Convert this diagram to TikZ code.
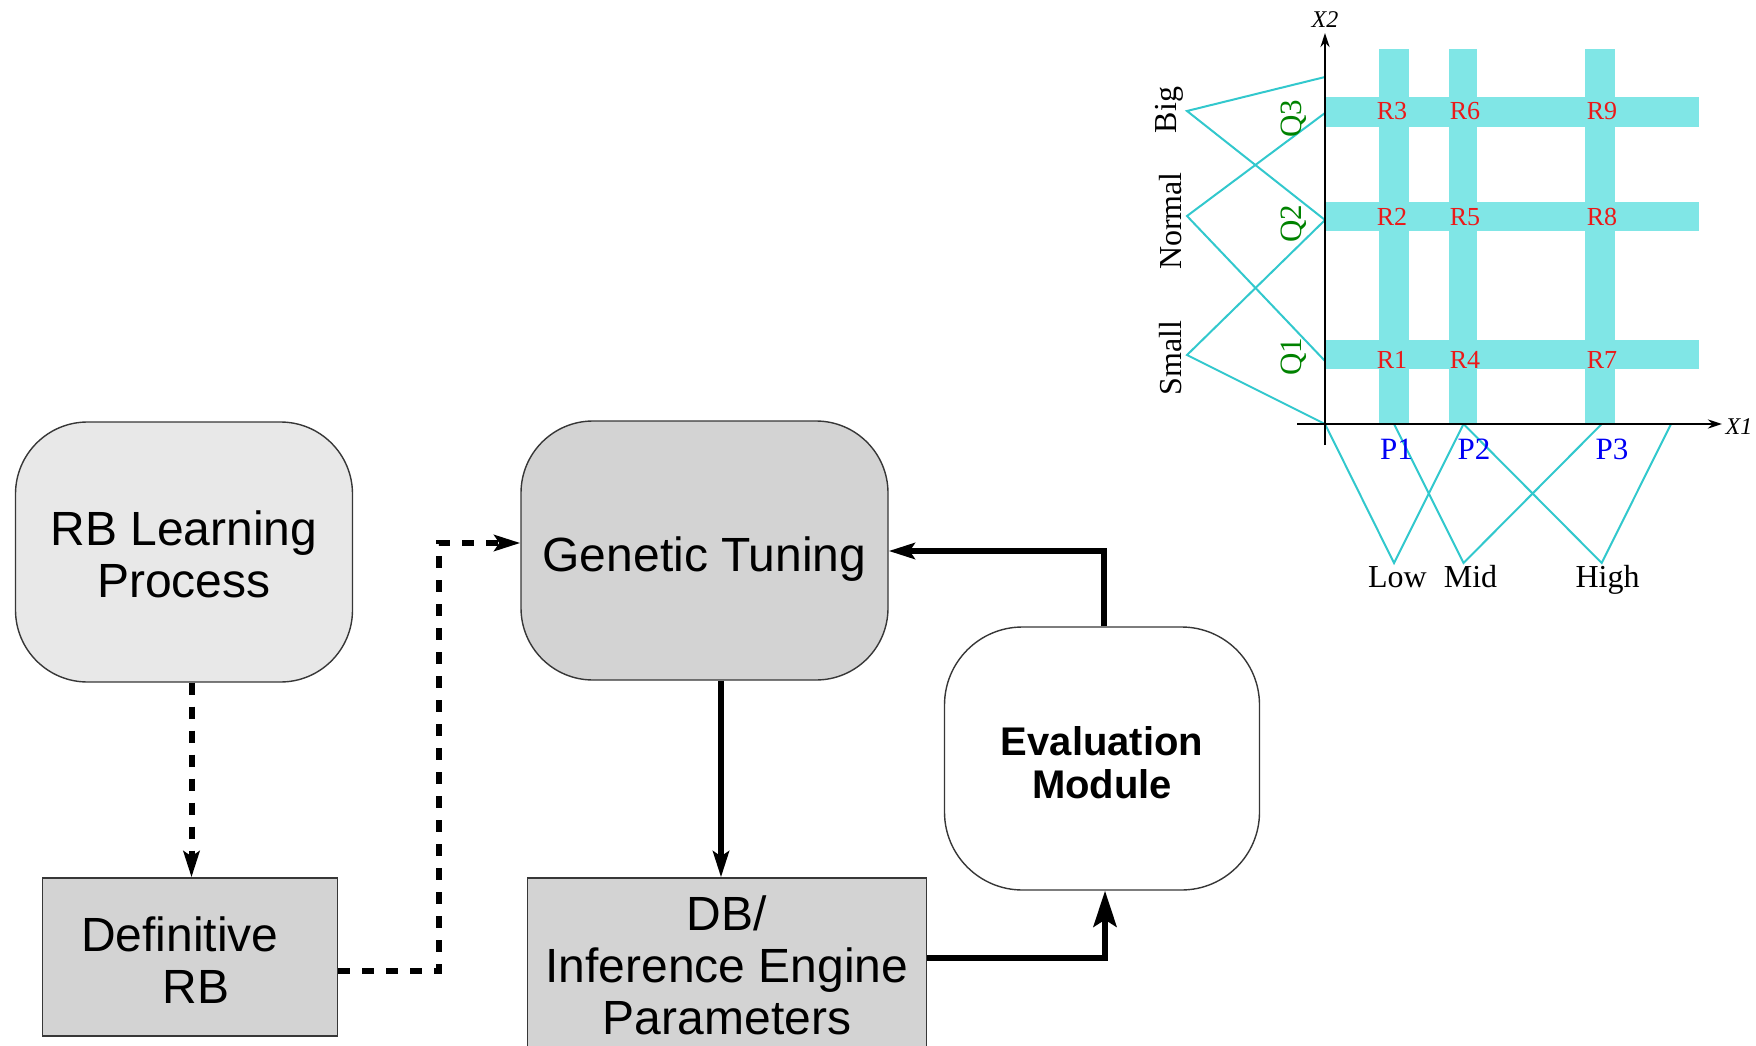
\documentclass[tikz,border=0pt]{standalone}
\usepackage{fontspec}
\setmainfont{Liberation Serif}
\newfontfamily\arialfont{Liberation Sans}
\usetikzlibrary{arrows.meta}

\definecolor{boxlight}{RGB}{232,232,232}
\definecolor{boxgray}{RGB}{211,211,211}
\definecolor{boxline}{RGB}{55,55,55}
\definecolor{bandcyan}{RGB}{128,230,230}
\definecolor{mfcyan}{RGB}{50,200,205}
\definecolor{rlabel}{RGB}{235,25,25}
\definecolor{qlabel}{RGB}{0,130,0}
\definecolor{plabel}{RGB}{0,0,245}

% lower a line of text while keeping its box dimensions
\newcommand\lowerline[2]{\raisebox{-#1}[\height][\depth]{#2}}

\begin{document}
\begin{tikzpicture}[x=1pt,y=-1pt,
  roundbox/.style={draw=boxline, line width=1.4pt, rounded corners=72pt, align=center, inner sep=0pt},
  sqbox/.style={draw=boxline, line width=1.4pt, fill=boxgray, align=center, inner sep=0pt},
  boxtext/.style={font=\arialfont\fontsize{48}{52}\selectfont},
  flow/.style={line width=6pt, -{Stealth[length=26pt,width=16pt,inset=5pt]}},
  bigtip/.style={-{Stealth[length=36pt,width=23pt,inset=7pt]}},
  dashflow/.style={flow, dash pattern=on 12pt off 12pt},
  band/.style={fill=bandcyan},
  mf/.style={draw=mfcyan, line width=2pt},
  axisline/.style={line width=2.5pt, -{Stealth[length=14pt,width=9pt]}},
  termlabel/.style={font=\fontsize{32}{32}\selectfont, inner sep=0pt},
  rulelabel/.style={font=\fontsize{26}{26}\selectfont, text=rlabel, inner sep=0pt},
  qlab/.style={font=\fontsize{31}{31}\selectfont, text=qlabel, inner sep=0pt, rotate=90, anchor=base},
  plab/.style={font=\fontsize{31}{31}\selectfont, text=plabel, inner sep=0pt},
  varlabel/.style={font=\itshape\fontsize{24}{24}\selectfont, inner sep=0pt}
]
\path[use as bounding box, clip] (0,0) rectangle (1756,1046);

% ---------- process blocks ----------
\node[roundbox, fill=boxlight, minimum width=337pt, minimum height=260pt, boxtext] (rbl) at (184,552)
  {\lowerline{2pt}{RB Learning}\\\lowerline{2pt}{Process}};
\node[roundbox, fill=boxgray, minimum width=367pt, minimum height=259pt, boxtext] (gt) at (704.5,550.5)
  {\lowerline{9pt}{Genetic Tuning}};
\node[roundbox, fill=white, rounded corners=78pt, minimum width=315pt, minimum height=263pt,
      font=\arialfont\bfseries\fontsize{40}{43}\selectfont] (eval) at (1102,758.5)
  {\lowerline{4pt}{Evaluation}\\\lowerline{4pt}{Module}};
\node[sqbox, minimum width=295pt, minimum height=158pt, boxtext] (def) at (190,957)
  {\lowerline{3.5pt}{Definitive\rule{20pt}{0pt}}\\\lowerline{3.5pt}{\rule{12pt}{0pt}RB}};
\node[sqbox, minimum width=399pt, minimum height=174pt, boxtext] (db) at (727,965)
  {DB/\\Inference Engine\\Parameters};

% ---------- connectors ----------
\coordinate (kRB) at (191.5,0);
\draw[dashflow] (rbl.south -| kRB) -- (def.north -| kRB);

\coordinate (kDG1) at (439,971);
\coordinate (kDG2) at (439,543);
\draw[dashflow] (def.east |- kDG1) -- (kDG1) -- (kDG2) -- (gt.west |- kDG2);

\coordinate (kGD) at (721,0);
\draw[flow] (gt.south -| kGD) -- (db.north -| kGD);

\coordinate (kDE) at (1105,958);
\draw[flow, bigtip] (db.east |- kDE) -- (kDE) -- (eval.south -| kDE);

\coordinate (kEG) at (1104,551);
\draw[flow] (eval.north -| kEG) -- (kEG) -- (gt.east |- kEG);

% ---------- fuzzy grid: rule bands ----------
\fill[band] (1379,49) rectangle (1409,424);
\fill[band] (1449,49) rectangle (1477,424);
\fill[band] (1585,49) rectangle (1615,424);
\fill[band] (1325,97) rectangle (1699,127);
\fill[band] (1325,202) rectangle (1699,231);
\fill[band] (1325,340) rectangle (1699,369);

% membership functions of X2
\draw[mf] (1325,77) -- (1187,111) -- (1325,220);
\draw[mf] (1325,113) -- (1187,216) -- (1325,361);
\draw[mf] (1325,220) -- (1187,355) -- (1325,424);
% membership functions of X1
\draw[mf] (1325,424) -- (1394,563) -- (1463.5,424);
\draw[mf] (1394,424) -- (1463.5,563) -- (1601.7,424);
\draw[mf] (1463.5,424) -- (1601.7,563) -- (1671,424);

% axes
\draw[axisline] (1325,445) -- (1325,33);
\draw[axisline] (1297,424) -- (1722,424);
\node[varlabel] (x2) at (1325,20) {X2};
\node[varlabel] (x1) at (1739,427) {X1};

% rule labels
\node[rulelabel] (r3) at (1392,111) {R3};
\node[rulelabel] (r6) at (1465,111) {R6};
\node[rulelabel] (r9) at (1602,111) {R9};
\node[rulelabel] (r2) at (1392,217) {R2};
\node[rulelabel] (r5) at (1465,217) {R5};
\node[rulelabel] (r8) at (1602,217) {R8};
\node[rulelabel] (r1) at (1392,360) {R1};
\node[rulelabel] (r4) at (1465,360) {R4};
\node[rulelabel] (r7) at (1602,360) {R7};

% X2 term labels
\node[termlabel, rotate=90, anchor=base] (tbig) at (1176,110) {Big};
\node[termlabel, rotate=90, anchor=base] (tnormal) at (1181,221) {Normal};
\node[termlabel, rotate=90, anchor=base] (tsmall) at (1181,358) {Small};
\node[qlab] (q3) at (1301,118.5) {Q3};
\node[qlab] (q2) at (1301,224) {Q2};
\node[qlab] (q1) at (1301,356.5) {Q1};

% X1 term labels
\node[plab] (p1) at (1396.5,449) {P1};
\node[plab] (p2) at (1474,449) {P2};
\node[plab] (p3) at (1612,449) {P3};
\node[termlabel, anchor=base] (tlow) at (1397.5,587) {Low};
\node[termlabel, anchor=base] (tmid) at (1470.5,587) {Mid};
\node[termlabel, anchor=base] (thigh) at (1607.5,587) {High};
\end{tikzpicture}
\end{document}
